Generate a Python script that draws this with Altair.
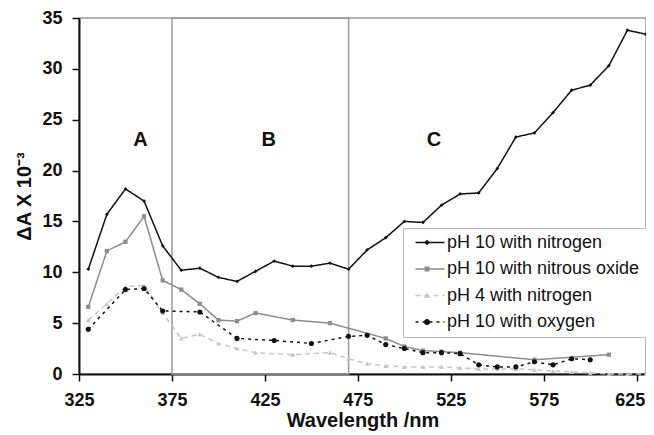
import altair as alt
import pandas as pd

# ---------------- data ----------------
series_names = ["pH 10 with nitrogen", "pH 10 with nitrous oxide",
                "pH 4 with nitrogen", "pH 10 with oxygen"]

wl_n2 = [330, 340, 350, 360, 370, 380, 390, 400, 410, 420, 430, 440, 450, 460, 470,
         480, 490, 500, 510, 520, 530, 540, 550, 560, 570, 580, 590, 600, 610, 620, 630]
val_n2 = [10.3, 15.7, 18.2, 17.0, 12.6, 10.2, 10.4, 9.5, 9.1, 10.1, 11.1, 10.6, 10.6, 10.9, 10.3,
          12.2, 13.4, 15.0, 14.9, 16.6, 17.7, 17.8, 20.2, 23.3, 23.7, 25.7, 27.9, 28.4, 30.3, 33.8, 33.4]

wl_n2o = [330, 340, 350, 360, 370, 380, 390, 400, 410, 420, 440, 460, 490, 500, 510, 520, 530, 570, 610]
val_n2o = [6.6, 12.1, 13.0, 15.5, 9.2, 8.3, 6.9, 5.3, 5.2, 6.0, 5.3, 5.0, 3.5, 2.7, 2.3, 2.2, 2.1, 1.4, 1.9]

wl_ph4 = [330, 340, 350, 360, 370, 380, 390, 400, 410, 420, 440, 460, 470, 480, 490, 500, 510,
          520, 530, 540, 550, 560, 570, 580, 590, 600, 610, 620, 630]
val_ph4 = [5.3, 6.9, 8.6, 8.7, 6.0, 3.5, 3.9, 3.0, 2.5, 2.1, 1.9, 2.1, 1.5, 1.0, 0.8, 0.7, 0.7,
           0.7, 0.6, 0.5, 0.5, 0.5, 0.4, 0.3, 0.2, 0.1, 0.0, 0.0, 0.0]

wl_o2 = [330, 350, 360, 370, 390, 410, 430, 450, 470, 480, 490, 500, 510, 520, 530, 540,
         550, 560, 570, 580, 590, 600]
val_o2 = [4.4, 8.3, 8.4, 6.2, 6.1, 3.5, 3.3, 3.0, 3.7, 3.8, 2.9, 2.5, 2.1, 2.1, 2.0, 0.9,
          0.7, 0.7, 1.2, 0.9, 1.5, 1.4]

x_ticks = [325, 375, 425, 475, 525, 575, 625]
y_ticks = [0, 5, 10, 15, 20, 25, 30, 35]

region_labels = ["A", "B", "C"]
region_x = [358, 427, 516]
region_y = [23, 23, 23]

box_b_x = [375, 470]
box_b_y = [0, 35]

# ---------------- tables ----------------
rows = []
for name, wls, vals in zip(series_names,
                           [wl_n2, wl_n2o, wl_ph4, wl_o2],
                           [val_n2, val_n2o, val_ph4, val_o2]):
    for w, v in zip(wls, vals):
        rows.append({"s": name, "m": name, "k": name, "wl": w, "v": v})
df = pd.DataFrame(rows)

labels_df = pd.DataFrame({"t": region_labels, "wl": region_x, "v": region_y})
box_df = pd.DataFrame({"x0": [box_b_x[0]], "x1": [box_b_x[1]],
                       "y0": [box_b_y[0]], "y1": [box_b_y[1]]})

colors = ["#111111", "#8c8c8c", "#c4c4c4", "#111111"]
dashes = [[1, 0], [1, 0], [5, 4], [3, 4]]
shapes = ["diamond", "square", "triangle-up", "circle"]
sizes = [14, 26, 26, 30]
# legend marker glyphs (unit box, drawn at symbol size 256 -> 8px per unit)
legend_glyphs = [
    "M0,-0.35L0.35,0L0,0.35L-0.35,0Z",
    "M-0.3,-0.3H0.3V0.3H-0.3Z",
    "M0,-0.38L0.38,0.3H-0.38Z",
    "M-0.38,0A0.38,0.38,0,1,0,0.38,0A0.38,0.38,0,1,0,-0.38,0Z",
]

FONT = "Liberation Sans"

xs = alt.Scale(domain=[325, 630], nice=False, zero=False)
ys = alt.Scale(domain=[0, 35], nice=False, zero=True)

last_x = x_ticks[-1]
x_enc = alt.X("wl:Q", scale=xs,
              axis=alt.Axis(values=x_ticks, title="Wavelength /nm", titlePadding=1,
                            labelPadding=10,
                            labelAlign=alt.ExprRef(f"datum.value == {last_x} ? 'right' : 'center'"),
                            labelOffset=alt.ExprRef(f"datum.value == {last_x} ? 8 : 0")))
y_enc = alt.Y("v:Q", scale=ys,
              axis=alt.Axis(values=y_ticks, title="ΔA X 10⁻³", titlePadding=7,
                            labelPadding=10))

LX, LY = 324, 210
common = dict(title=None, orient="none", legendX=LX, legendY=LY,
              labelFontSize=18, labelFont=FONT, padding=6, rowPadding=7.5,
              clipHeight=17, labelLimit=400)

line_legend = alt.Legend(symbolType="M-2.9,0H2.9", symbolSize=100, symbolStrokeWidth=1.5,
                         labelColor="#111", fillColor="white", strokeColor="#bbbbbb",
                         symbolOffset=12, labelOffset=8, **common)
mark_legend = alt.Legend(labelExpr="''", symbolSize=256, symbolOffset=9,
                         labelOffset=0, symbolStrokeWidth=0, **common)

box = alt.Chart(box_df).mark_rect(fillOpacity=0, stroke="#999999", strokeWidth=1.5).encode(
    x=alt.X("x0:Q", scale=xs), x2="x1:Q",
    y=alt.Y("y0:Q", scale=ys), y2="y1:Q")

lines = alt.Chart(df).mark_line(strokeWidth=1.5).encode(
    x=x_enc, y=y_enc,
    color=alt.Color("s:N", scale=alt.Scale(domain=series_names, range=colors),
                    legend=line_legend, sort=series_names),
    strokeDash=alt.StrokeDash("s:N", scale=alt.Scale(domain=series_names, range=dashes),
                              legend=line_legend, sort=series_names),
)

points = alt.Chart(df).mark_point(filled=True, opacity=1).encode(
    x=x_enc, y=y_enc,
    fill=alt.Fill("m:N", scale=alt.Scale(domain=series_names, range=colors), legend=None),
    shape=alt.Shape("m:N", scale=alt.Scale(domain=series_names, range=shapes), legend=None),
    size=alt.Size("m:N", scale=alt.Scale(domain=series_names, range=sizes), legend=None),
)

# legend-only layer (no marks drawn) supplying the marker glyphs of the legend
legend_marks = alt.Chart(df).transform_filter("false").mark_point(
    filled=True, opacity=1, size=256).encode(
    x=x_enc, y=y_enc,
    fill=alt.Fill("k:N", scale=alt.Scale(domain=series_names, range=colors),
                  legend=mark_legend, sort=series_names),
    shape=alt.Shape("k:N", scale=alt.Scale(domain=series_names, range=legend_glyphs),
                    legend=mark_legend, sort=series_names),
)

texts = alt.Chart(labels_df).mark_text(fontSize=20, fontWeight="bold", font=FONT,
                                       color="#111").encode(
    x=alt.X("wl:Q", scale=xs), y=alt.Y("v:Q", scale=ys), text="t:N")

chart = alt.layer(box, lines, points, legend_marks, texts).resolve_scale(
    color="independent", fill="independent", shape="independent", size="independent",
    strokeDash="independent"
).resolve_legend(
    color="independent", fill="independent", shape="independent", size="independent",
    strokeDash="independent"
).properties(
    width=567, height=356,
    padding={"left": 71, "top": 10, "right": 0, "bottom": 61},
    autosize=alt.AutoSizeParams(type="none"),
).configure(font=FONT).configure_view(
    stroke="#999999", strokeWidth=1.5
).configure_axis(
    grid=False, domainColor="#111", domainWidth=2, tickColor="#111", tickWidth=1.5,
    tickSize=7, labelFontSize=18, labelFontWeight="bold", labelColor="#111",
    labelFont=FONT, titleFont=FONT, titleFontSize=20, titleFontWeight="bold",
    titleColor="#111"
)

chart.save("out.html", embed_options={"renderer": "svg", "actions": False})
